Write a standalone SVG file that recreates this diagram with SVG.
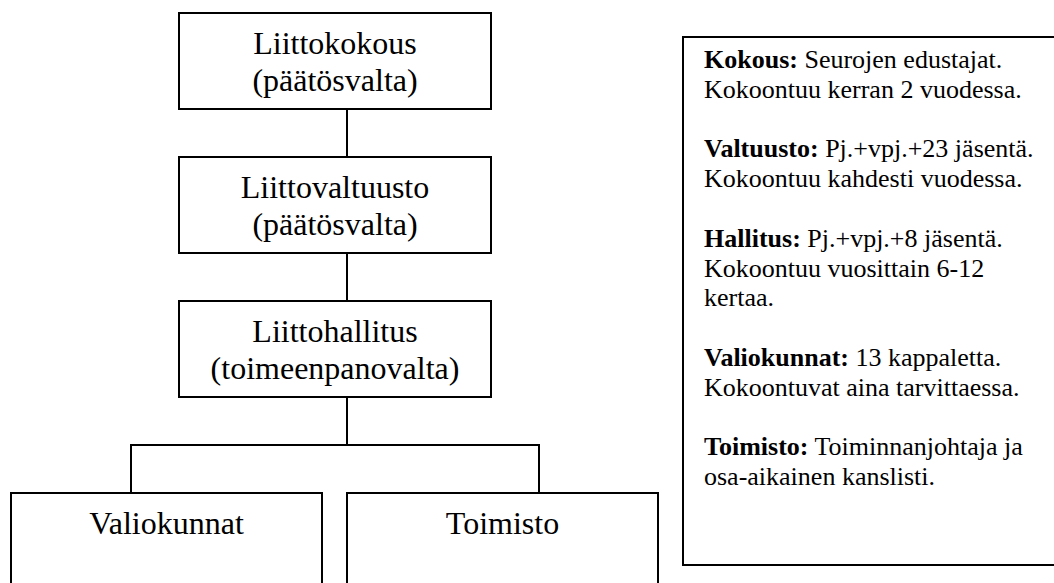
<svg xmlns="http://www.w3.org/2000/svg" width="1054" height="583" viewBox="0 0 1054 583">
<style>
.box{fill:#fff;stroke:#000;stroke-width:2}
.conn{fill:none;stroke:#000;stroke-width:2}
.nt{font-family:'Liberation Serif','Times New Roman',Times,'DejaVu Serif',serif;font-size:32px;fill:#000;text-anchor:middle}
.it{font-family:'Liberation Serif','Times New Roman',Times,'DejaVu Serif',serif;font-size:26px;fill:#000}
.b{font-weight:bold}
</style>
<rect width="1054" height="583" fill="#fff"/>
<g id="connectors">
<line class="conn" x1="347" y1="109" x2="347" y2="157"/>
<line class="conn" x1="347" y1="253" x2="347" y2="301"/>
<line class="conn" x1="347" y1="397" x2="347" y2="445"/>
<polyline class="conn" points="131,493 131,445 539,445 539,493"/>
</g>
<g id="liittokokous">
<rect class="box" x="179" y="13" width="312" height="96"/>
<text class="nt" x="335" y="54">Liittokokous</text>
<text class="nt" x="335" y="91">(päätösvalta)</text>
</g>
<g id="liittovaltuusto">
<rect class="box" x="179" y="157" width="312" height="96"/>
<text class="nt" x="335" y="198">Liittovaltuusto</text>
<text class="nt" x="335" y="235">(päätösvalta)</text>
</g>
<g id="liittohallitus">
<rect class="box" x="179" y="301" width="312" height="96"/>
<text class="nt" x="335" y="342">Liittohallitus</text>
<text class="nt" x="335" y="379">(toimeenpanovalta)</text>
</g>
<g id="valiokunnat">
<rect class="box" x="11" y="493" width="311" height="100"/>
<text class="nt" x="166.5" y="534">Valiokunnat</text>
</g>
<g id="toimisto">
<rect class="box" x="347" y="493" width="311" height="100"/>
<text class="nt" x="502.5" y="534">Toimisto</text>
</g>
<g id="info">
<rect class="box" x="683" y="37" width="380" height="528"/>
<text class="it" x="704" y="68"><tspan class="b">Kokous:</tspan> Seurojen edustajat.</text>
<text class="it" x="704" y="97.8">Kokoontuu kerran 2 vuodessa.</text>
<text class="it" x="704" y="157.4"><tspan class="b">Valtuusto:</tspan> Pj.+vpj.+23 jäsentä.</text>
<text class="it" x="704" y="187.2">Kokoontuu kahdesti vuodessa.</text>
<text class="it" x="704" y="246.8"><tspan class="b">Hallitus:</tspan> Pj.+vpj.+8 jäsentä.</text>
<text class="it" x="704" y="276.6">Kokoontuu vuosittain 6-12</text>
<text class="it" x="704" y="306.4">kertaa.</text>
<text class="it" x="704" y="366"><tspan class="b">Valiokunnat:</tspan> 13 kappaletta.</text>
<text class="it" x="704" y="395.8">Kokoontuvat aina tarvittaessa.</text>
<text class="it" x="704" y="455.4"><tspan class="b">Toimisto:</tspan> Toiminnanjohtaja ja</text>
<text class="it" x="704" y="485.2">osa-aikainen kanslisti.</text>
</g>
</svg>
